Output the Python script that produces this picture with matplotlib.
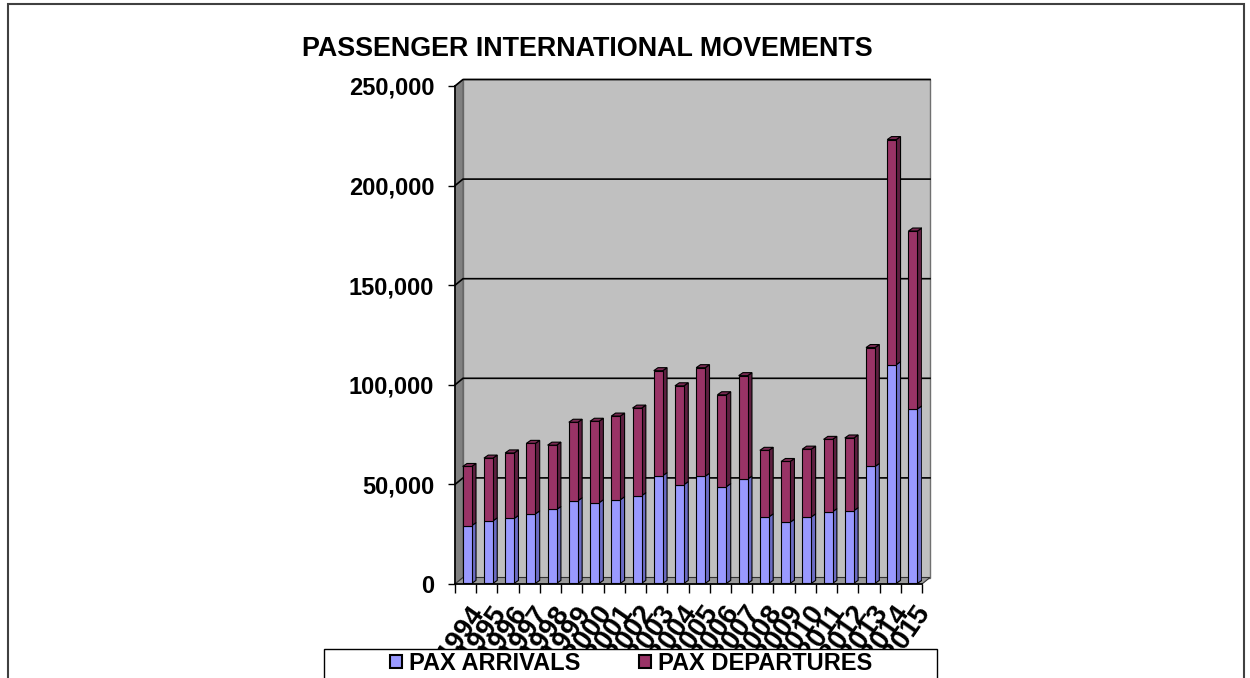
import matplotlib
matplotlib.use("Agg")
import matplotlib.pyplot as plt
import matplotlib.transforms as mtransforms
from matplotlib.patches import Polygon, Rectangle, Patch
from matplotlib.ticker import FixedLocator, FuncFormatter

# ---- data -------------------------------------------------------------
years = ["1994", "1995", "1996", "1997", "1998", "1999", "2000", "2001",
         "2002", "2003", "2004", "2005", "2006", "2007", "2008", "2009",
         "2010", "2011", "2012", "2013", "2014", "2015"]
arrivals = [29000, 31400, 32600, 34900, 37100, 41500, 40500, 42000,
            44000, 54100, 49600, 53800, 48600, 52400, 33400, 30700,
            33400, 36000, 36500, 58700, 109800, 87600]
departures = [29700, 31500, 32900, 35400, 32300, 39400, 40900, 42000,
              44000, 52700, 49600, 54500, 46100, 51900, 33400, 30500,
              34000, 36300, 36500, 59700, 113000, 89300]
series_names = ["PAX ARRIVALS", "PAX DEPARTURES"]
y_ticks = [0, 50000, 100000, 150000, 200000, 250000]
title = "PASSENGER INTERNATIONAL MOVEMENTS"

# ---- style ------------------------------------------------------------
plt.rcParams['font.family'] = ['Liberation Sans', 'DejaVu Sans']
face_cols = {"arr": "#9999ff", "dep": "#993366"}
side_cols = {"arr": "#6b6bc4", "dep": "#5e1f40"}
top_cols = {"arr": "#7b7be0", "dep": "#7a2952"}

W, H, DPI = 1250, 678, 100
fig = plt.figure(figsize=(W / DPI, H / DPI), dpi=DPI)
fig.patch.set_facecolor("white")

ax = fig.add_axes([455 / W, (H - 584) / H, 467 / W, 498 / H])
n = len(years)
ax.set_xlim(-0.5, n - 0.5)
ax.set_ylim(0, y_ticks[-1])
ax.patch.set_visible(False)

# pixel -> data unit conversions for the pseudo-3D depth
px_x = n / 467.0
px_y = y_ticks[-1] / 498.0
wall_dx, wall_dy = 8 * px_x, 6.5 * px_y
x_lo, x_hi = -0.5, n - 0.5
y_top = y_ticks[-1]

# walls and floor
ax.add_patch(Rectangle((x_lo + wall_dx, wall_dy), n, y_top,
                       facecolor="#c0c0c0", edgecolor="#707070", lw=1.0,
                       clip_on=False, zorder=0.5))
ax.add_patch(Polygon([(x_lo, 0), (x_lo + wall_dx, wall_dy),
                      (x_lo + wall_dx, y_top + wall_dy), (x_lo, y_top)],
                     closed=True, facecolor="#808080", edgecolor="#606060",
                     lw=0.8, clip_on=False, zorder=0.6))
ax.add_patch(Polygon([(x_lo, 0), (x_hi, 0), (x_hi + wall_dx, wall_dy),
                      (x_lo + wall_dx, wall_dy)],
                     closed=True, facecolor="#9a9a9a", edgecolor="#333333",
                     lw=0.8, clip_on=False, zorder=0.6))

# gridlines across the side wall and back wall
for v in y_ticks[1:]:
    ax.plot([x_lo, x_lo + wall_dx, x_hi + wall_dx], [v, v + wall_dy, v + wall_dy],
            color="black", lw=1.2, clip_on=False, zorder=0.8)

# 3D-looking stacked columns
bar_w = 9 * px_x
depth_dx, depth_dy = 4.3 * px_x, 3.0 * px_y
base = 300


def column_segment(x0, y0, y1, key, with_top):
    x1 = x0 + bar_w
    ax.add_patch(Polygon([(x1, y0), (x1 + depth_dx, y0 + depth_dy),
                          (x1 + depth_dx, y1 + depth_dy), (x1, y1)],
                         closed=True, facecolor=side_cols[key],
                         edgecolor="black", lw=0.8, zorder=2))
    ax.add_patch(Rectangle((x0, y0), bar_w, y1 - y0, facecolor=face_cols[key],
                           edgecolor="black", lw=0.8, zorder=3))
    if with_top:
        ax.add_patch(Polygon([(x0, y1), (x1, y1), (x1 + depth_dx, y1 + depth_dy),
                              (x0 + depth_dx, y1 + depth_dy)],
                             closed=True, facecolor=top_cols[key],
                             edgecolor="black", lw=0.8, zorder=3))


for i, (a, d) in enumerate(zip(arrivals, departures)):
    x0 = i - 0.5 + 7.7 * px_x
    column_segment(x0, base, base + a, "arr", False)
    column_segment(x0, base + a, base + a + d, "dep", True)

# axes lines
for side in ("top", "right"):
    ax.spines[side].set_visible(False)
for side in ("left", "bottom"):
    ax.spines[side].set_color("black")
    ax.spines[side].set_linewidth(1.2)
    ax.spines[side].set_zorder(4)

ax.yaxis.set_major_locator(FixedLocator(y_ticks))
ax.yaxis.set_major_formatter(FuncFormatter(lambda v, p: f"{v:,.0f}"))
ax.tick_params(axis="y", direction="out", length=5, width=1.0, pad=10,
               labelsize=17)
for lab in ax.get_yticklabels():
    lab.set_fontweight("bold")

ax.set_xticks(range(n))
ax.set_xticks([k - 0.5 for k in range(n + 1)], minor=True)
ax.tick_params(axis="x", which="major", length=0, pad=12)
ax.tick_params(axis="x", which="minor", direction="out", length=6.5, width=1.0)
ax.set_xticklabels(years, rotation=55, ha="right", va="top",
                   rotation_mode="anchor", fontsize=20, fontweight="bold")
shift = mtransforms.ScaledTranslation(3 / DPI, 0, fig.dpi_scale_trans)
for lab in ax.get_xticklabels():
    lab.set_transform(lab.get_transform() + shift)

# title
fig.text(587.7 / W, 1 - 56 / H, title, ha="center", va="baseline",
         fontsize=19.4, fontweight="bold")

# legend box and legend
fig.add_artist(Rectangle((324 / W, -0.02), (937 - 324) / W, (678 - 649) / H + 0.02,
                         transform=fig.transFigure, facecolor="white",
                         edgecolor="black", lw=1.0, zorder=4))
handles = [Patch(facecolor=face_cols["arr"], edgecolor="black", lw=1.5),
           Patch(facecolor=face_cols["dep"], edgecolor="black", lw=1.5)]
fig.legend(handles, series_names, ncol=2, loc="center",
           bbox_to_anchor=(631 / W, 1 - 663.5 / H), frameon=False,
           prop={"size": 17, "weight": "bold"}, handlelength=0.5,
           handleheight=0.5, handletextpad=0.3, columnspacing=2.5,
           borderpad=0.0)

# outer chart border
fig.add_artist(Rectangle((8 / W, -0.05), (1244 - 8) / W, 1 - 4 / H + 0.05,
                         transform=fig.transFigure, fill=False,
                         edgecolor="#404040", lw=1.5, zorder=10))

fig.savefig("out.png", dpi=DPI)
